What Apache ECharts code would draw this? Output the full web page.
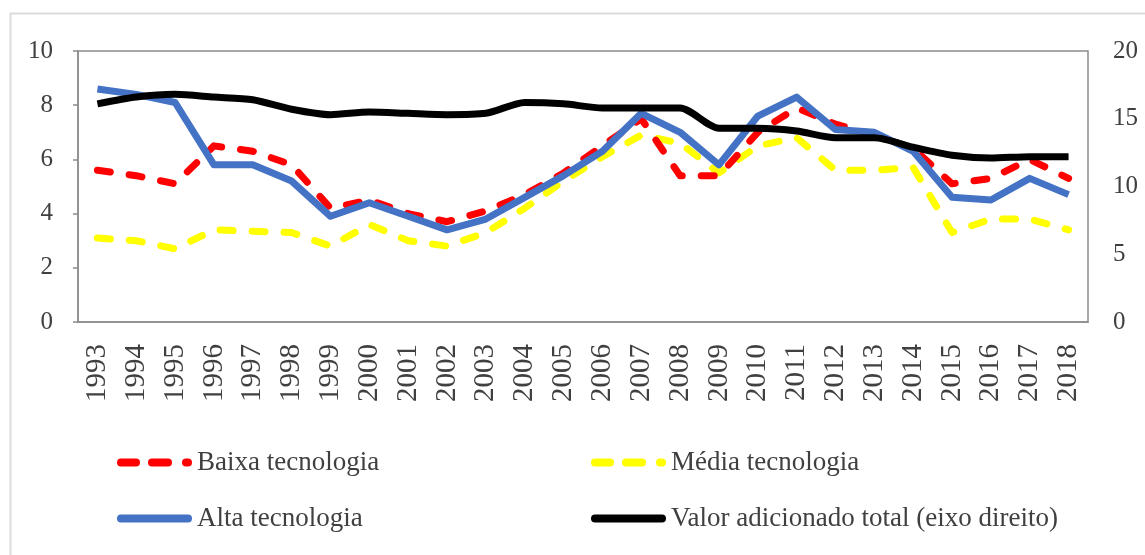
<!DOCTYPE html>
<html>
<head>
    <meta charset="utf-8">
    <title>Valor adicionado por intensidade tecnológica</title>
    <style>
        html, body { margin: 0; padding: 0; background: #fff; }
    </style>
</head>
<body>
<div id="main" style="width: 1145px;height:555px;"></div>
<script src="https://cdn.jsdelivr.net/npm/echarts@6/dist/echarts.min.js"></script>
<script type="text/javascript">
    // anos
    var anos = ['1993','1994','1995','1996','1997','1998','1999','2000','2001','2002','2003','2004','2005',
        '2006','2007','2008','2009','2010','2011','2012','2013','2014','2015','2016','2017','2018'];
    // eixo esquerdo
    var baixa = [5.6,5.4,5.1,6.5,6.3,5.8,4.2,4.5,4.0,3.7,4.1,4.7,5.5,6.5,7.5,5.4,5.4,7.0,7.9,7.3,6.9,6.4,5.1,5.3,6.0,5.3];
    var media = [3.1,3.0,2.7,3.4,3.35,3.3,2.8,3.6,3.0,2.8,3.3,4.2,5.2,6.1,6.9,6.6,5.5,6.5,6.8,5.6,5.6,5.7,3.3,3.8,3.8,3.4];
    var alta = [8.6,8.4,8.1,5.8,5.8,5.2,3.9,4.4,3.9,3.4,3.8,4.6,5.4,6.3,7.7,7.0,5.8,7.6,8.3,7.1,7.0,6.3,4.6,4.5,5.3,4.7];
    // eixo direito
    var total = [16.1,16.6,16.8,16.6,16.4,15.7,15.3,15.5,15.4,15.3,15.4,16.2,16.1,15.8,15.8,15.8,14.3,14.3,14.1,13.6,13.6,12.9,12.3,12.1,12.2,12.2];

    var serif = '"Liberation Serif", "DejaVu Serif", serif';
    var cinza = '#404040';

    // pedaço arredondado para os ícones da legenda
    function pill(x0, x1, h) {
        var r = h / 2;
        return 'M' + (x0 + r) + ',0 L' + (x1 - r) + ',0 A' + r + ',' + r + ' 0 0 1 ' + (x1 - r) + ',' + h +
            ' L' + (x0 + r) + ',' + h + ' A' + r + ',' + r + ' 0 0 1 ' + (x0 + r) + ',0 Z';
    }
    var iconeTracejado = 'path://' + pill(0, 23, 8) + ' ' + pill(31, 55, 8) + ' ' + pill(65, 75, 8);
    var iconeCheio = 'path://' + pill(0, 75, 8);

    var myChart = echarts.init(document.getElementById('main'));

    function legenda(nome, icone, left, top) {
        return {
            data: [{ name: nome, icon: icone }],
            left: left,
            top: top,
            itemWidth: 75,
            itemHeight: 8,
            textStyle: { fontFamily: serif, fontSize: 27, color: cinza }
        };
    }

    myChart.setOption({
        animation: false,
        graphic: [{
            type: 'rect',
            shape: { x: 10.5, y: 13.5, width: 1200, height: 600 },
            style: { fill: 'none', stroke: '#dcdcdc', lineWidth: 2 },
            silent: true
        }],
        grid: {
            left: 78, right: 57, top: 51, bottom: 233,
            show: true, borderColor: '#8c8c8c', borderWidth: 1.5, backgroundColor: '#fff'
        },
        legend: [
            legenda('Baixa tecnologia', iconeTracejado, 112, 444),
            legenda('Média tecnologia', iconeTracejado, 586, 444),
            legenda('Alta tecnologia', iconeCheio, 112, 500),
            legenda('Valor adicionado total (eixo direito)', iconeCheio, 586, 500)
        ],
        xAxis: {
            type: 'category',
            data: anos,
            boundaryGap: true,
            axisLine: { lineStyle: { color: '#8c8c8c', width: 1.5 } },
            axisTick: { inside: true, length: 6, lineStyle: { color: '#8c8c8c', width: 1.5 } },
            axisLabel: { rotate: 90, interval: 0, margin: 22, fontFamily: serif, fontSize: 29, color: cinza }
        },
        yAxis: [{
            type: 'value',
            min: 0, max: 10, interval: 2,
            splitLine: { show: false },
            axisLine: { show: true, lineStyle: { color: '#8c8c8c', width: 1.5 } },
            axisTick: { show: true, length: 5, lineStyle: { color: '#8c8c8c', width: 1.5 } },
            axisLabel: { margin: 25, fontFamily: serif, fontSize: 25, color: cinza }
        }, {
            type: 'value',
            min: 0, max: 20, interval: 5,
            position: 'right',
            splitLine: { show: false },
            axisLine: { show: false },
            axisTick: { show: false },
            axisLabel: { margin: 25, fontFamily: serif, fontSize: 25, color: cinza }
        }],
        series: [{
            name: 'Baixa tecnologia',
            type: 'line',
            data: baixa,
            symbol: 'none',
            itemStyle: { color: '#ff0000' },
            lineStyle: { color: '#ff0000', width: 7, type: [13, 19], cap: 'round', join: 'round' },
            z: 2
        }, {
            name: 'Média tecnologia',
            type: 'line',
            data: media,
            symbol: 'none',
            itemStyle: { color: '#ffff00' },
            lineStyle: { color: '#ffff00', width: 7, type: [13, 19], cap: 'round', join: 'round' },
            z: 1
        }, {
            name: 'Alta tecnologia',
            type: 'line',
            data: alta,
            symbol: 'none',
            itemStyle: { color: '#4472c4' },
            lineStyle: { color: '#4472c4', width: 7, join: 'round' },
            z: 3
        }, {
            name: 'Valor adicionado total (eixo direito)',
            type: 'line',
            yAxisIndex: 1,
            data: total,
            symbol: 'none',
            smooth: 0.25,
            itemStyle: { color: '#000000' },
            lineStyle: { color: '#000000', width: 7, join: 'round' },
            z: 4
        }]
    });
</script>
</body>
</html>
